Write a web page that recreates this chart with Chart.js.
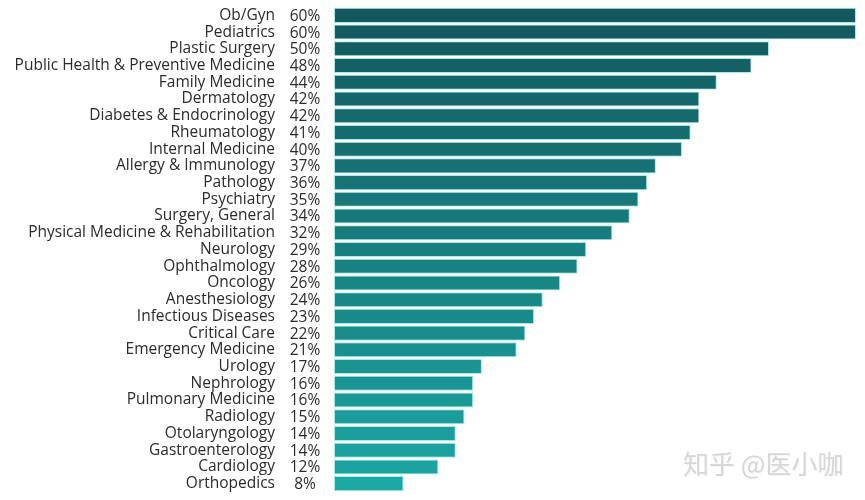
<!DOCTYPE html>
<html>
<head>
<meta charset="utf-8">
<script src="https://cdn.jsdelivr.net/npm/chart.js@4.4.1/dist/chart.umd.min.js"></script>
<style>
  html, body { margin: 0; padding: 0; background: #fff; }
</style>
</head>
<body>
<canvas id="chart" width="865" height="500"></canvas>
<script>
// specialties, top to bottom
const specialties = [
    'Ob/Gyn', 'Pediatrics', 'Plastic Surgery', 'Public Health & Preventive Medicine',
    'Family Medicine', 'Dermatology', 'Diabetes & Endocrinology', 'Rheumatology',
    'Internal Medicine', 'Allergy & Immunology', 'Pathology', 'Psychiatry',
    'Surgery, General', 'Physical Medicine & Rehabilitation', 'Neurology',
    'Ophthalmology', 'Oncology', 'Anesthesiology', 'Infectious Diseases',
    'Critical Care', 'Emergency Medicine', 'Urology', 'Nephrology',
    'Pulmonary Medicine', 'Radiology', 'Otolaryngology', 'Gastroenterology',
    'Cardiology', 'Orthopedics'
];
const percents = [60, 60, 50, 48, 44, 42, 42, 41, 40, 37, 36, 35, 34, 32, 29, 28, 26, 24, 23, 22, 21, 17, 16, 16, 15, 14, 14, 12, 8];

// dark teal at the top -> light teal at the bottom
const topColor = [19, 88, 93];
const bottomColor = [28, 166, 164];
const barColors = specialties.map((_, i) => {
    const t = i / (specialties.length - 1);
    const c = topColor.map((v, k) => Math.round(v + (bottomColor[k] - v) * t));
    return `rgb(${c[0]},${c[1]},${c[2]})`;
});

const BAR_LEFT = 334;
const FONT = '"Open Sans", "Noto Sans", sans-serif';

// percent labels between the names and the bars, plus the watermark
const extras = {
    id: 'extras',
    afterDraw(chart) {
        const ctx = chart.ctx;
        const y = chart.scales.y;
        ctx.save();
        ctx.font = '15.5px ' + FONT;
        ctx.fillStyle = '#2b2b2b';
        ctx.textAlign = 'center';
        ctx.textBaseline = 'middle';
        percents.forEach((p, i) => {
            ctx.fillText(p + '%', 305, y.getPixelForValue(i) + 1);
        });
        ctx.font = '26px "Noto Sans CJK SC", sans-serif';
        ctx.textAlign = 'left';
        ctx.fillStyle = '#f6f6f6';
        ctx.fillText('知乎 @医小咖', 684, 465);
        ctx.fillStyle = '#d6d6d6';
        ctx.fillText('知乎 @医小咖', 683, 464);
        ctx.restore();
    }
};

new Chart(document.getElementById('chart'), {
    type: 'bar',
    data: {
        labels: specialties,
        datasets: [{
            data: percents,
            backgroundColor: barColors,
            borderColor: '#a4ecec',
            borderWidth: 1,
            borderSkipped: false,
            categoryPercentage: 1,
            barPercentage: 0.9
        }]
    },
    options: {
        indexAxis: 'y',
        responsive: false,
        animation: false,
        layout: { padding: { top: 0, bottom: 0, right: 9, left: 0 } },
        plugins: {
            legend: { display: false },
            tooltip: { enabled: false }
        },
        scales: {
            x: {
                display: false,
                min: 0,
                max: 60
            },
            y: {
                border: { display: false },
                grid: {
                    drawOnChartArea: false,
                    drawTicks: true,
                    tickLength: 59,
                    color: 'transparent'
                },
                ticks: {
                    autoSkip: false,
                    padding: 0,
                    color: '#2b2b2b',
                    font: { family: FONT, size: 15.5 }
                },
                afterFit(scale) {
                    scale.width = BAR_LEFT;
                    scale.paddingTop = 7;
                    scale.paddingBottom = 8;
                }
            }
        }
    },
    plugins: [extras]
});
</script>
</body>
</html>
